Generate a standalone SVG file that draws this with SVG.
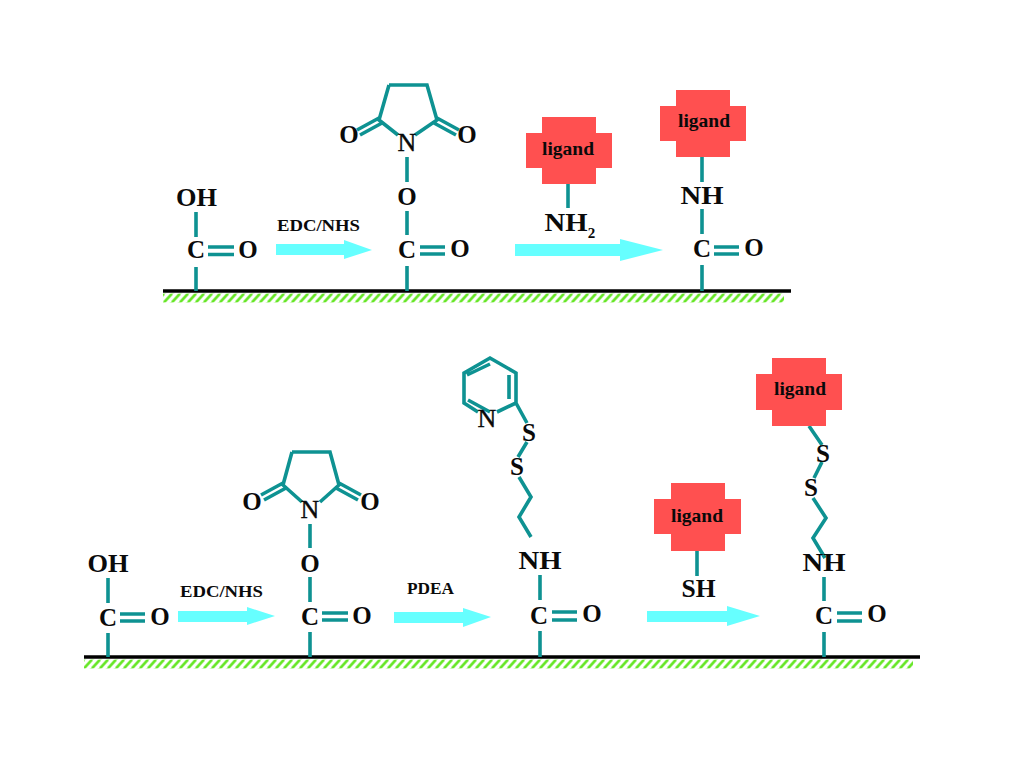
<svg xmlns="http://www.w3.org/2000/svg" width="1024" height="768" viewBox="0 0 1024 768">
<style>
text{font-family:"Liberation Serif","Times New Roman",serif;font-weight:bold;fill:#0a0a0a;text-anchor:middle}
.a{font-size:25px}
.n{font-size:26px;font-weight:normal;stroke:#0a0a0a;stroke-width:.4}
.s{font-size:16px}
.l{font-size:19px}
.b{fill:none;stroke:#0e9292;stroke-width:3.6}
.g{fill:none;stroke:#000;stroke-width:3.5}
.r{fill:#66ffff}
.x{fill:#ff5050}
</style>
<defs>
<pattern id="hatch" patternUnits="userSpaceOnUse" width="8" height="9" x="0" y="293.500">
<path d="M-4 9L4 0M4 9L12 0" fill="none" stroke="#66e626" stroke-width="2.700"/>
</pattern>
<pattern id="hatch2" patternUnits="userSpaceOnUse" width="8" height="9" x="0" y="659.500">
<path d="M-4 9L4 0M4 9L12 0" fill="none" stroke="#66e626" stroke-width="2.700"/>
</pattern>
</defs>
<rect width="1024" height="768" fill="#fff"/>
<g id="surface-top">
<rect x="163" y="293.500" width="621" height="9" fill="url(#hatch)"/>
<path class="g" d="M163 291H791"/>
</g>
<g id="surface-bottom">
<rect x="84" y="659.500" width="829" height="9" fill="url(#hatch2)"/>
<path class="g" d="M84 657H920"/>
</g>
<g id="connectors">
<path class="b" d="M196 212V237M208 247H234M208 254.500H234M196 267V291"/>
<path class="b" d="M389 85H427L437 120L415 135M398 135L379 120L389 85M379 118L357 130M382 123L360 135M437 118L459 130M434 123L456 135M407 157V182M407 211V235M420 247H445M420 254H445M407 266V291"/>
<path class="b" d="M568 184V208"/>
<path class="b" d="M702 157V182M702 209V234M714 247H739M714 254H739M702 265V291"/>
<path class="b" d="M108 578V603M120 614H145M120 621H145M108 633V657"/>
<path class="b" d="M292 452H330L339 485L320 502M302 502L283 485L292 452M283 483L261 495M286 488L264 500M339 483L361 495M336 488L358 500M310 524V548M310 577V602M322 613H348M322 620H348M310 632V657"/>
<path class="b" d="M478 412L464 403V373L490 358L516 373V403L497 412M467 375L490 364M509 375V399M468 400L490 412M516 403L527 423M527 442L518 457M519 477L531 497L519 517L531 537M540 575V600M552 612H577M552 620H577M540 631V657"/>
<path class="b" d="M697 551V576"/>
<path class="b" d="M809 426L822 445M822 462L814 478M813 498L826 518L813 538L825 558M824 577V601M837 613H862M837 621H862M824 632V657"/>
</g>
<g id="arrow-1"><path class="r" d="M276 244H344V240L372 250L344 259V255H276Z"/></g>
<g id="arrow-2"><path class="r" d="M515 244H620V239L663 250L620 261V256H515Z"/></g>
<g id="arrow-3"><path class="r" d="M178 611H247V607L275 616L247 625V622H178Z"/></g>
<g id="arrow-4"><path class="r" d="M394 612H463V608L491 617L463 627V623H394Z"/></g>
<g id="arrow-5"><path class="r" d="M647 611H727V606L760 616L727 626V622H647Z"/></g>
<g id="ligand-1"><path class="x" d="M542 117H596V133H612V168H596V184H542V168H526V133H542Z"/><text class="l" x="568" y="155" textLength="52" lengthAdjust="spacingAndGlyphs">ligand</text></g>
<g id="ligand-2"><path class="x" d="M676 90H730V106H746V141H730V157H676V141H660V106H676Z"/><text class="l" x="704" y="127" textLength="52" lengthAdjust="spacingAndGlyphs">ligand</text></g>
<g id="ligand-3"><path class="x" d="M671 483H725V499H741V534H725V551H671V534H654V499H671Z"/><text class="l" x="697" y="522" textLength="52" lengthAdjust="spacingAndGlyphs">ligand</text></g>
<g id="ligand-4"><path class="x" d="M772 358H826V374H842V410H826V426H772V410H756V374H772Z"/><text class="l" x="800" y="395" textLength="52" lengthAdjust="spacingAndGlyphs">ligand</text></g>
<g id="acid-1"><text class="a" x="196.500" y="206" textLength="41" lengthAdjust="spacingAndGlyphs">OH</text><text class="a" x="196" y="258">C</text><text class="a" x="248" y="258">O</text></g>
<g id="nhs-1"><text class="a" x="349" y="143">O</text><text class="a" x="467" y="143">O</text><text class="n" x="407" y="151">N</text><text class="a" x="407" y="205">O</text><text class="a" x="407" y="258">C</text><text class="a" x="460" y="257">O</text></g>
<g id="amine"><text class="a" x="566" y="231" textLength="43" lengthAdjust="spacingAndGlyphs">NH</text><text x="591.500" y="238" font-size="15">2</text></g>
<g id="amide-1"><text class="a" x="702" y="204" textLength="43" lengthAdjust="spacingAndGlyphs">NH</text><text class="a" x="702" y="257">C</text><text class="a" x="754" y="256">O</text></g>
<g id="acid-2"><text class="a" x="108" y="572" textLength="41" lengthAdjust="spacingAndGlyphs">OH</text><text class="a" x="108" y="626">C</text><text class="a" x="160" y="625">O</text></g>
<g id="nhs-2"><text class="a" x="252" y="510">O</text><text class="a" x="370" y="510">O</text><text class="n" x="310" y="518">N</text><text class="a" x="310" y="572">O</text><text class="a" x="310" y="625">C</text><text class="a" x="362" y="624">O</text></g>
<g id="pdea-chain"><text class="n" x="487" y="427">N</text><text class="a" x="529" y="441">S</text><text class="a" x="517" y="475">S</text><text class="a" x="540" y="569" textLength="43" lengthAdjust="spacingAndGlyphs">NH</text><text class="a" x="539" y="624">C</text><text class="a" x="592" y="622">O</text></g>
<g id="thiol"><text class="a" x="698.500" y="597" textLength="34" lengthAdjust="spacingAndGlyphs">SH</text></g>
<g id="final-chain"><text class="a" x="823" y="462">S</text><text class="a" x="811" y="496">S</text><text class="a" x="824" y="571" textLength="43" lengthAdjust="spacingAndGlyphs">NH</text><text class="a" x="824" y="624">C</text><text class="a" x="877" y="622">O</text></g>
<g id="labels"><text class="s" x="318.500" y="231" textLength="83" lengthAdjust="spacingAndGlyphs">EDC/NHS</text><text class="s" x="221.500" y="597" textLength="83" lengthAdjust="spacingAndGlyphs">EDC/NHS</text><text class="s" x="430.500" y="594" textLength="47" lengthAdjust="spacingAndGlyphs">PDEA</text></g>
</svg>
